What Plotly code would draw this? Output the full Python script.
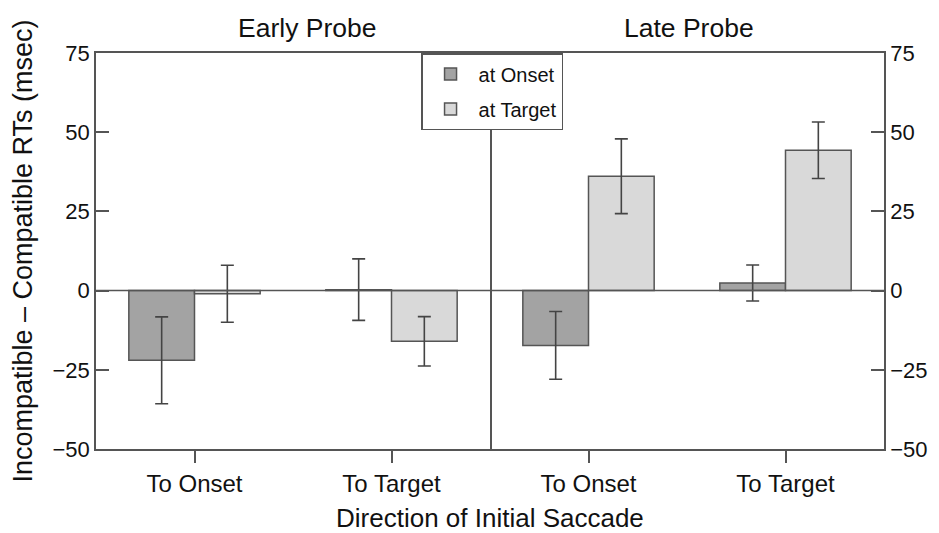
import plotly.graph_objects as go

directions = ["To Onset", "To Target"]
panels = ["Early Probe", "Late Probe"]
series = ["at Onset", "at Target"]

early_onset = [-22.0, 0.3]
early_onset_err = [13.7, 9.7]
early_target = [-1.0, -16.0]
early_target_err = [9.0, 7.8]
late_onset = [-17.3, 2.4]
late_onset_err = [10.7, 5.7]
late_target = [36.1, 44.3]
late_target_err = [11.8, 8.9]

y_ticks = [-50, -25, 0, 25, 50, 75]

FONT = "Liberation Sans, Arial, Helvetica, sans-serif"
LINE = "#555555"
TXT = "#111111"
fills = {"at Onset": "#a3a3a3", "at Target": "#d9d9d9"}

fig = go.Figure()

data = [
    ("x", "y", early_onset, early_onset_err, early_target, early_target_err, True),
    ("x2", "y2", late_onset, late_onset_err, late_target, late_target_err, False),
]
for xa, ya, on, on_e, tg, tg_e, show in data:
    for name, vals, errs in [("at Onset", on, on_e), ("at Target", tg, tg_e)]:
        fig.add_trace(go.Bar(
            x=directions, y=vals, name=name, xaxis=xa, yaxis=ya,
            legendgroup=name, showlegend=show,
            marker=dict(color=fills[name], line=dict(color=LINE, width=1.5)),
            error_y=dict(type="data", array=errs, visible=True,
                         color="#444444", thickness=1.6, width=6.5),
        ))

line_common = dict(showline=True, linecolor=LINE, linewidth=1.5,
                   showgrid=False, zeroline=False)
xcommon = dict(ticks="outside", ticklen=12, tickcolor=LINE, tickwidth=1.5,
               mirror=True, tickfont=dict(family=FONT, size=24, color=TXT),
               **line_common)
ycommon = dict(range=[-50, 75], tickvals=y_ticks, ticks="inside", ticklen=13,
               tickcolor=LINE, tickwidth=1.5,
               tickfont=dict(family=FONT, size=22, color=TXT), **line_common)

# The page body adds an 8px offset; the figure is sized to fit the window.
fig.update_layout(
    width=931, height=525,
    margin=dict(l=88, r=51, t=45, b=84),
    paper_bgcolor="white", plot_bgcolor="white",
    barmode="group", bargap=1/3, bargroupgap=0,
    font=dict(family=FONT, color=TXT),
    xaxis=dict(domain=[0, 0.5], anchor="y", **xcommon),
    xaxis2=dict(domain=[0.5, 1], anchor="y2", **xcommon),
    yaxis=dict(anchor="x", side="left", mirror=True,
               title=dict(text="Incompatible \u2013 Compatible RTs (msec)",
                          font=dict(family=FONT, size=27, color=TXT),
                          standoff=14),
               **ycommon),
    yaxis2=dict(anchor="x2", side="right", mirror=False, **ycommon),
    legend=dict(x=0.4125, y=1, xanchor="left", yanchor="top",
                bgcolor="white", bordercolor=LINE, borderwidth=1.5,
                font=dict(family=FONT, size=20, color=TXT),
                itemwidth=46, tracegroupgap=6),
    showlegend=True,
)

# x axis title, centered under both panels
fig.add_annotation(text="Direction of Initial Saccade", xref="paper", yref="paper",
                   x=0.5, y=0, xanchor="center", yanchor="top", yshift=-52,
                   showarrow=False, font=dict(family=FONT, size=26, color=TXT))

# panel titles
for name, xpos in zip(panels, [0.268, 0.753]):
    fig.add_annotation(text=name, xref="paper", yref="paper", x=xpos, y=1,
                       xanchor="center", yanchor="bottom", yshift=8,
                       showarrow=False, font=dict(family=FONT, size=26.5, color=TXT))

# zero reference line across both panels
fig.add_shape(type="line", xref="paper", yref="y", x0=0, x1=1, y0=0, y1=0,
              line=dict(color=LINE, width=1.5), layer="above")

fig.write_html("out.html")
